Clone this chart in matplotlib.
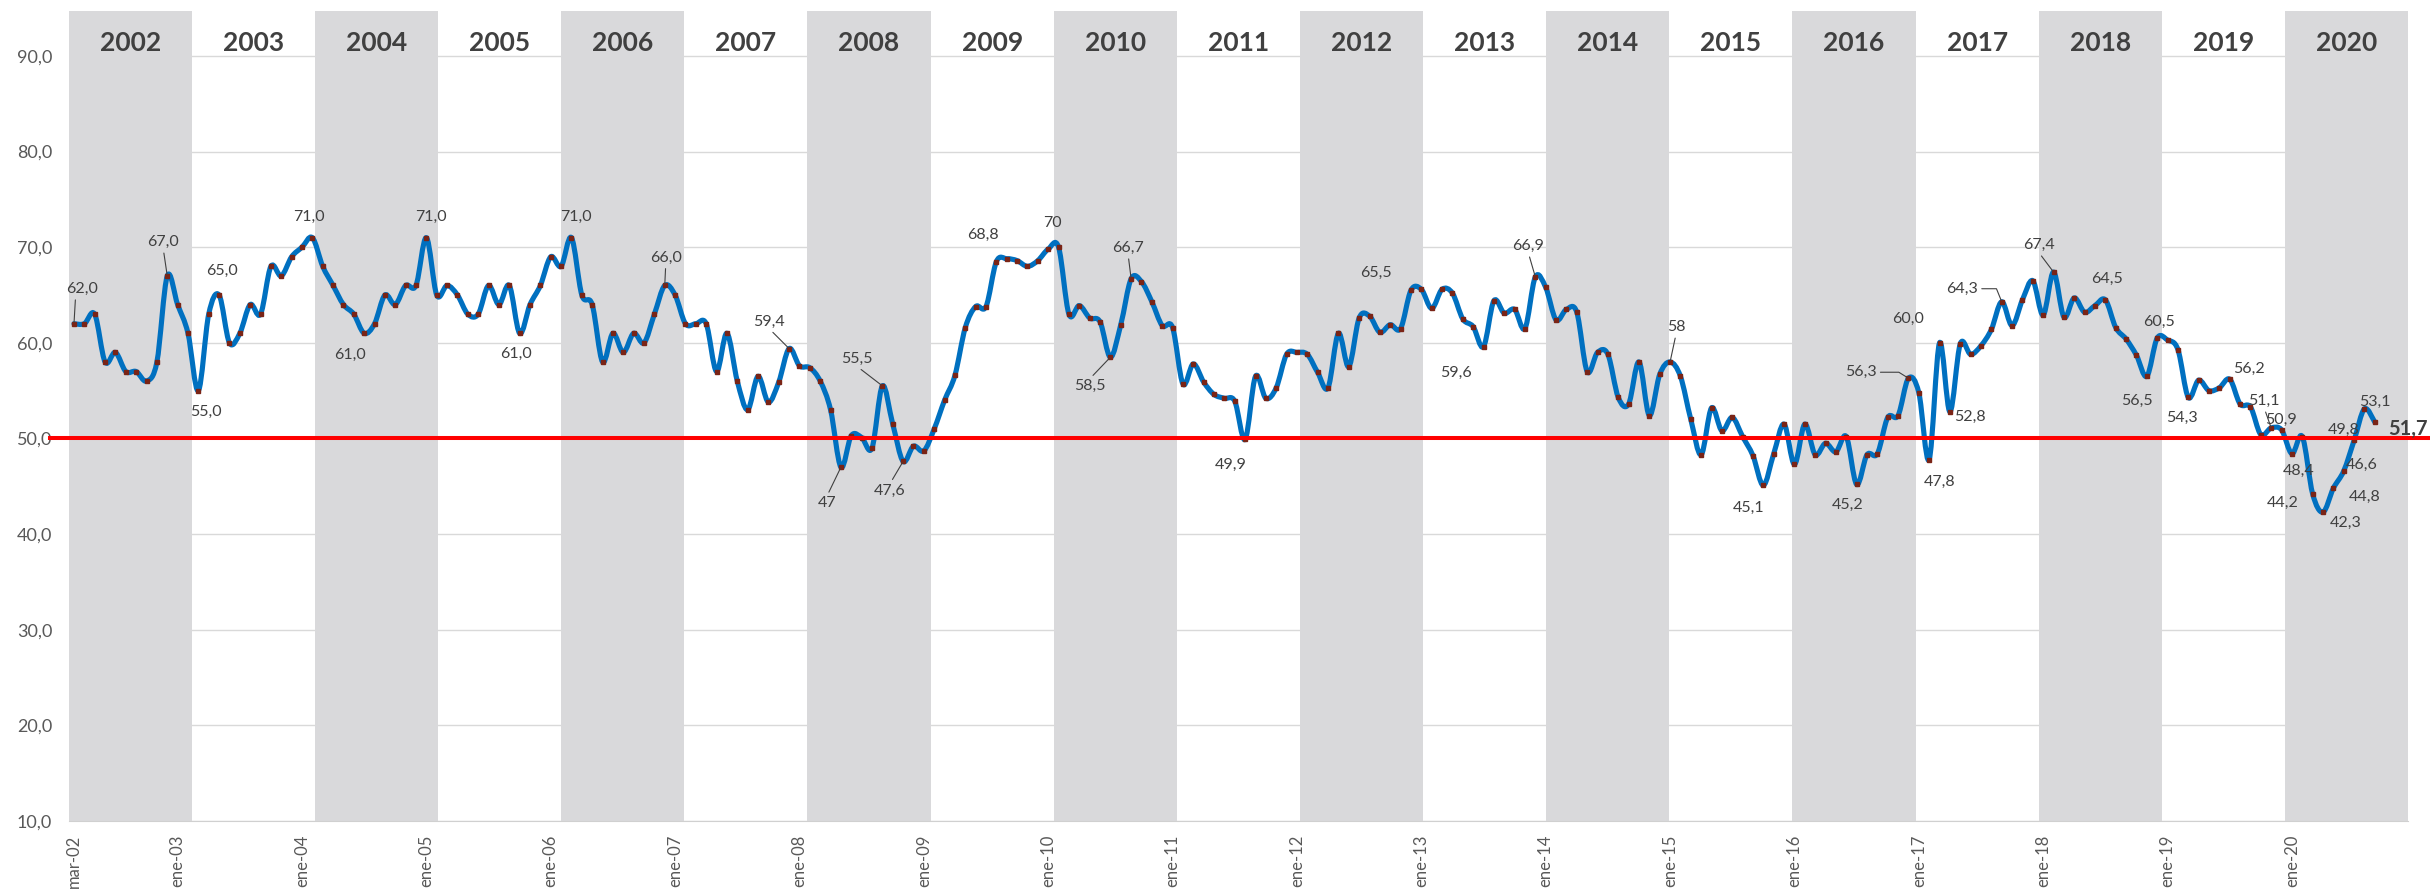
import numpy as np
import pandas as pd
import matplotlib
matplotlib.use("Agg")
import matplotlib.pyplot as plt
from matplotlib.path import Path
from matplotlib.patches import PathPatch

plt.rcParams['font.family'] = ['Lato', 'DejaVu Sans']

# serie mensual desde mar-02
valores = [
    62, 62, 63, 58, 59, 57, 57, 56, 58, 67, 64, 61,                  # mar-02 .. feb-03
    55, 63, 65, 60, 61, 64, 63, 68, 67, 69, 70, 71,                  # mar-03 .. feb-04
    68, 66, 64, 63, 61, 62, 65, 64, 66, 66, 71, 65,
    66, 65, 63, 63, 66, 64, 66, 61, 64, 66, 69, 68,
    71, 65, 64, 58, 61, 59, 61, 60, 63, 66, 65, 62,
    62, 62, 57, 61, 56, 53, 56.5, 53.8, 55.9, 59.4, 57.6, 57.4,
    56, 53, 47, 50.3, 50.1, 49, 55.5, 51.5, 47.6, 49.2, 48.7, 51,
    54, 56.6, 61.6, 63.8, 63.8, 68.5, 68.8, 68.6, 68, 68.6, 69.8, 70,
    63, 63.9, 62.6, 62.2, 58.5, 61.9, 66.7, 66.4, 64.3, 61.8, 61.6, 55.7,
    57.8, 55.9, 54.6, 54.2, 53.9, 49.9, 56.5, 54.2, 55.3, 58.8, 59, 58.8,
    56.9, 55.3, 61, 57.5, 62.6, 62.8, 61.1, 61.9, 61.5, 65.5, 65.6, 63.6,
    65.6, 65.2, 62.5, 61.7, 59.6, 64.4, 63.1, 63.5, 61.5, 66.9, 65.8, 62.4,
    63.5, 63.2, 57, 59, 58.8, 54.3, 53.6, 58, 52.4, 56.7, 58, 56.5,
    52, 48.3, 53.2, 50.8, 52.2, 50.2, 48.2, 45.1, 48.4, 51.5, 47.3, 51.5,
    48.3, 49.5, 48.6, 50.2, 45.2, 48.3, 48.4, 52.2, 52.4, 56.3, 54.8, 47.8,
    60, 52.8, 59.9, 58.8, 59.7, 61.4, 64.3, 61.8, 64.5, 66.5, 62.9, 67.4,
    62.7, 64.7, 63.2, 63.9, 64.5, 61.6, 60.4, 58.7, 56.5, 60.5, 60.3, 59.3,
    54.3, 56.1, 55, 55.3, 56.2, 53.6, 53.3, 50.4, 51.1, 50.9, 48.4, 50.2,
    44.2, 42.3, 44.8, 46.6, 49.8, 53.1, 51.7,
]
meses = pd.period_range('2002-03', periods=len(valores), freq='M')
anios = list(range(2002, 2021))

# etiquetas de datos
etq_idx = [0, 9, 12, 14, 23, 28, 34, 43, 48, 57, 69, 74, 78, 80, 90, 95, 100, 102,
           113, 129, 136, 141, 154, 163, 172, 177, 179, 180, 181, 186, 191, 196,
           200, 201, 204, 208, 212, 213, 214, 216, 217, 218, 219, 220, 221]
etq_txt = ['62,0', '67,0', '55,0', '65,0', '71,0', '61,0', '71,0', '61,0', '71,0',
           '66,0', '59,4', '47', '55,5', '47,6', '68,8', '70', '58,5', '66,7',
           '49,9', '65,5', '59,6', '66,9', '58', '45,1', '45,2', '56,3', '47,8',
           '60,0', '52,8', '64,3', '67,4', '64,5', '56,5', '60,5', '54,3', '56,2',
           '51,1', '50,9', '48,4', '44,2', '42,3', '44,8', '46,6', '49,8', '53,1']

# desplazamiento de cada etiqueta (px) y linea guia
etq_pos = [(8, 35), (-4, 34), (8, -21), (3, 24), (-3, 21), (-14, -22), (5, 21),
           (-4, -21), (4, 21), (1, 28), (-20, 27), (-14, -36), (-26, 27), (-13, -29),
           (-24, 24), (-6, 24), (-21, -29), (-3, 31), (-14, -25), (-35, 17),
           (-28, -26), (-7, 31), (6, 35), (-15, -23), (-9, -21), (-48, 6), (10, -22),
           (-31, 24), (20, -5), (-40, 13), (-15, 27), (2, 21), (-10, -25), (2, 16),
           (-6, -21), (19, 10), (-7, 27), (-1, 10), (7, -17), (-30, -9), (23, -11),
           (31, -9), (18, 6), (-10, 11), (10, 7)]
guias = {0: ((0.3, 0), None), 9: ((0.5, 0), None), 57: ((0.5, 0), None),
         69: ((0.5, 0), None), 74: ((0.5, 1), None), 78: ((0.5, 0), None),
         80: ((0.5, 1), None), 100: ((0.5, 1), None), 102: ((0.5, 0), None),
         141: ((0.5, 0), None), 154: ((0.5, 0), None),
         177: ((1, 0.5), "angle,angleA=0,angleB=-32,rad=0"),
         186: ((1, 0.5), "angle,angleA=0,angleB=-68,rad=0"),
         191: ((0.5, 0), None), 212: ((0.5, 0), None)}

gris_txt = '#404040'
x = np.arange(len(valores))
y = np.array(valores, dtype=float)
xmin, xmax = -0.5, 225.2

fig = plt.figure(figsize=(24.3, 8.94), dpi=100)
ax = fig.add_axes([68.8 / 2430, 73 / 894, (2408 - 68.8) / 2430, (821 - 11.4) / 894])
ax.set_xlim(xmin, xmax)
ax.set_ylim(10, 94.66)

# bandas por año
bordes = np.linspace(xmin, xmax, len(anios) + 1)
for k, anio in enumerate(anios):
    if k % 2 == 0:
        ax.axvspan(bordes[k], bordes[k + 1], color='#D9D9DB', lw=0, zorder=1)
    ax.text((bordes[k] + bordes[k + 1]) / 2, 91.4, str(anio), ha='center', va='center',
            fontsize=19, fontweight='bold', color=gris_txt, zorder=5)

# linea suavizada
px = np.r_[x[0], x, x[-1]]
py = np.r_[y[0], y, y[-1]]
verts = [(x[0], y[0])]
codes = [Path.MOVETO]
for i in range(len(x) - 1):
    c1 = (px[i + 1] + (px[i + 2] - px[i]) / 6, py[i + 1] + (py[i + 2] - py[i]) / 6)
    c2 = (px[i + 2] - (px[i + 3] - px[i + 1]) / 6, py[i + 2] - (py[i + 3] - py[i + 1]) / 6)
    verts += [c1, c2, (px[i + 2], py[i + 2])]
    codes += [Path.CURVE4] * 3
ax.add_patch(PathPatch(Path(verts, codes), fill=False, edgecolor='#0070C0', lw=3.7,
                       capstyle='round', joinstyle='round', zorder=3))
ax.plot(x, y, 's', color='#7A2416', markersize=3.2, zorder=3.5)

ax.axhline(50, xmin=-0.008, xmax=1.01, color='#FF0000', lw=2.9, clip_on=False, zorder=4)

for i, t, (dx, dy) in zip(etq_idx, etq_txt, etq_pos):
    kw = {}
    if i in guias:
        rel, cs = guias[i]
        ap = dict(arrowstyle='-', color=gris_txt, lw=0.8, shrinkA=1, shrinkB=1, relpos=rel)
        if cs:
            ap['connectionstyle'] = cs
        kw['arrowprops'] = ap
    ax.annotate(t, (x[i], y[i]), xytext=(dx, dy), textcoords='offset pixels',
                ha='center', va='center', fontsize=11.5, color=gris_txt, zorder=6, **kw)

ax.annotate(f'{valores[-1]:.1f}'.replace('.', ','), (x[-1], y[-1]), xytext=(13, -7),
            textcoords='offset pixels', ha='left', va='center', fontsize=14.5,
            fontweight='bold', color=gris_txt, zorder=6, annotation_clip=False)

# ejes
ax.set_yticks(np.arange(10, 91, 10))
ax.set_yticklabels([f'{v:.1f}'.replace('.', ',') for v in np.arange(10, 91, 10)])
ax.grid(axis='y', color='#D9D9D9', lw=1)
ax.set_axisbelow(True)
pos_ticks = [0] + [j for j, m in enumerate(meses) if m.month == 1]
nombres = {1: 'ene', 3: 'mar'}
ax.set_xticks(pos_ticks)
ax.set_xticklabels([f'{nombres[meses[j].month]}-{meses[j].year % 100:02d}' for j in pos_ticks],
                   rotation=90)
ax.tick_params(axis='x', length=0, pad=10, labelsize=12, labelcolor='#595959')
ax.tick_params(axis='y', length=0, pad=12, labelsize=13, labelcolor='#595959')
for s in ['top', 'right', 'left']:
    ax.spines[s].set_visible(False)
ax.spines['bottom'].set_color('#D0D0D0')
ax.spines['bottom'].set_zorder(2)

fig.savefig('out.png', dpi=100)
